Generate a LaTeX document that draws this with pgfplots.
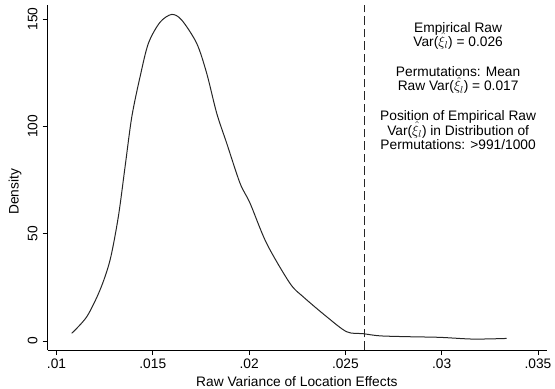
\documentclass[border=0pt]{standalone}
\usepackage{pgfplots}
\pgfplotsset{compat=1.18}
\usepackage{fontspec}
\setmainfont{Liberation Sans}
\newcommand\myfont{\fontsize{13.8}{15}\selectfont}
\begin{document}
\myfont
\begin{tikzpicture}[font=\myfont]
\useasboundingbox (-47.7bp,-39bp) rectangle (507.3bp,350bp);
\begin{axis}[
  scale only axis,
  width=499.3bp, height=345bp,
  xmin=0.009543, xmax=0.035467,
  ymin=-4.19, ymax=156.6,
  scaled x ticks=false, scaled y ticks=false,
  axis x line*=bottom, axis y line*=left,
  axis line style={-, black, line width=0.8bp},
  tick align=outside,
  major tick length=5bp,
  tick style={black, line width=0.8bp},
  xtick={0.01,0.015,0.02,0.025,0.03,0.035},
  xticklabels={.01,.015,.02,.025,.03,.035},
  ytick={0,50,100,150},
  yticklabels={0,50,100,150},
  /pgf/number format/assume math mode=true,
  ticklabel style={font=\myfont},
  label style={font=\myfont},
  yticklabel style={rotate=90, anchor=south, inner sep=0pt},
  yticklabel shift=5bp,
  xticklabel style={anchor=north, inner sep=0pt, yshift=-4bp},
  xlabel={Raw Variance of Location Effects},
  ylabel={Density},
  xlabel style={at={(axis description cs:0.499,-0.092)}, anchor=center},
  ylabel style={at={(axis description cs:-0.0655,0.458)}, anchor=center},
  clip=false,
]
\addplot[black!85, line width=1bp, smooth, tension=0.5] coordinates {
(0.01079,3.6)
(0.01157,11.3)
(0.01226,23.8)
(0.01278,37.7)
(0.01321,57.9)
(0.01356,81.2)
(0.01391,104.5)
(0.01434,123.2)
(0.01477,138.7)
(0.01537,148.5)
(0.01598,152.2)
(0.0165,149.6)
(0.01728,138.7)
(0.0178,124.7)
(0.01832,106.1)
(0.01884,92.1)
(0.01953,73.5)
(0.02005,64.2)
(0.02091,45.5)
(0.02212,26.9)
(0.02281,20.6)
(0.02403,11.3)
(0.02507,4.3)
(0.02593,3.4)
(0.0268,2.4)
(0.0283,2.0)
(0.02992,1.7)
(0.03164,0.9)
(0.03337,1.2)
};
\addplot[black!85, line width=1bp, dash pattern=on 8.5bp off 4bp] coordinates {(0.026,-4.19) (0.026,156.6)};
\node[anchor=base, font=\myfont] at (axis description cs:0.822,0.921) {Empirical Raw};
\node[anchor=base, font=\myfont] at (axis description cs:0.822,0.879) {Var($\hat{\xi}_l$) = 0.026};
\node[anchor=base, font=\myfont] at (axis description cs:0.822,0.792) {Permutations: Mean};
\node[anchor=base, font=\myfont] at (axis description cs:0.822,0.751) {Raw Var($\hat{\xi}_l$) = 0.017};
\node[anchor=base, font=\myfont] at (axis description cs:0.822,0.665) {Position of Empirical Raw};
\node[anchor=base, font=\myfont] at (axis description cs:0.822,0.623) {Var($\hat{\xi}_l$) in Distribution of};
\node[anchor=base, font=\myfont] at (axis description cs:0.822,0.580) {Permutations: >991/1000};
\end{axis}
\end{tikzpicture}
\end{document}
